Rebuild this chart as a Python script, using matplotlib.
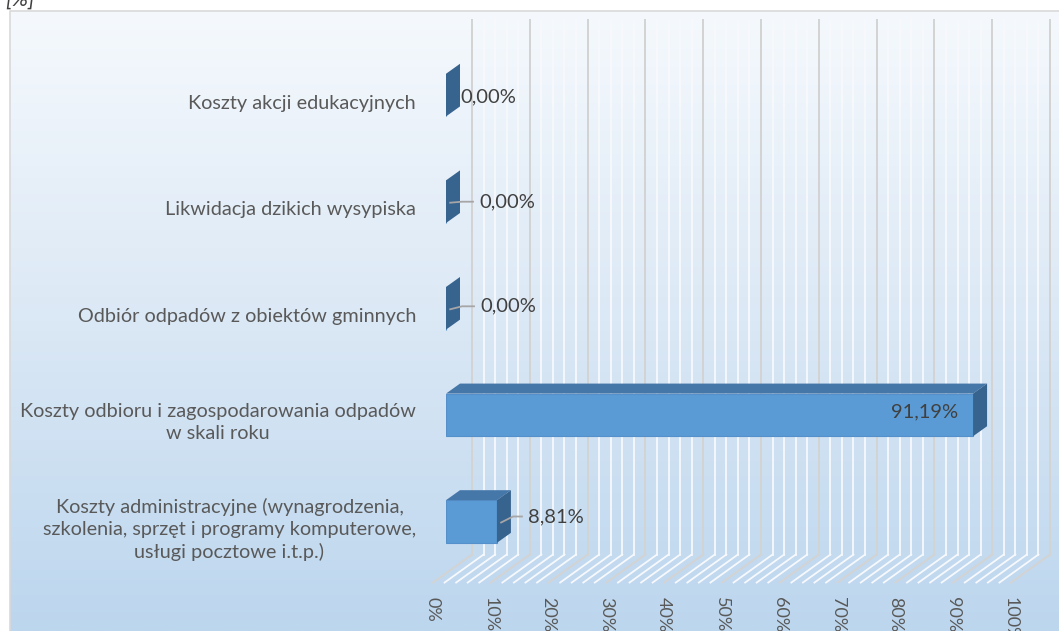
import numpy as np
import matplotlib
matplotlib.use("Agg")
import matplotlib.pyplot as plt
from matplotlib.patches import Polygon
from matplotlib.colors import LinearSegmentedColormap

plt.rcParams['font.family'] = ['Lato', 'DejaVu Sans']

# data
categories = [
    "Koszty administracyjne (wynagrodzenia,\nszkolenia, sprzęt i programy komputerowe,\nusługi pocztowe i.t.p.)",
    "Koszty odbioru i zagospodarowania odpadów\nw skali roku",
    "Odbiór odpadów z obiektów gminnych",
    "Likwidacja dzikich wysypiska",
    "Koszty akcji edukacyjnych",
]
values = [8.81, 91.19, 0.00, 0.00, 0.00]
tick_values = [0, 10, 20, 30, 40, 50, 60, 70, 80, 90, 100]
tick_labels = ["0%", "10%", "20%", "30%", "40%", "50%", "60%", "70%", "80%", "90%", "100%"]

W, H = 1059, 631
fig = plt.figure(figsize=(W / 100, H / 100), dpi=100)

# background with gradient
bg = fig.add_axes([0, 0, 1, 1])
bg.set_xlim(0, W)
bg.set_ylim(H, 0)
bg.axis('off')
cmap = LinearSegmentedColormap.from_list('bg', ['#f5f9fd', '#dbe8f5', '#bcd6ee'])
grad = np.linspace(0, 1, 256)[:, None]
bg.imshow(grad, extent=(10, W, H, 11), cmap=cmap, aspect='auto', zorder=0)
bg.plot([10, 10, W], [H, 11, 11], color='#d9d9d9', lw=1.2, zorder=1)
fig.text(5 / W, 1 - 6 / H, "[%]", fontsize=16, style='italic', color='#404040',
         va='baseline', ha='left')

# main axes
ax = fig.add_axes([446 / W, 56.2 / H, 578 / W, 533 / H])
ax.set_xlim(0, 100)
ax.set_ylim(-0.5, 4.5)
ax.axis('off')
ax.patch.set_alpha(0)

bb = ax.get_position()
sx = 100 / (bb.width * W)   # data per pixel, x
sy = 5 / (bb.height * H)    # data per pixel, y

wall_bot, wall_top = -0.31, 4.70
wall_dx = 26 * sx
floor_dx, floor_dy = 39 * sx, 28 * sy

# gridlines on back wall and floor
for g in np.arange(0, 101, 2):
    major = g % 10 == 0
    c = '#d3d3d3' if major else '#f7f9fc'
    lw = 1.4 if major else 1.3
    xw = g + wall_dx
    ax.plot([xw, xw], [wall_bot, wall_top], color=c, lw=lw, zorder=1, clip_on=False)
    ax.plot([xw, xw - floor_dx], [wall_bot, wall_bot - floor_dy], color=c, lw=lw,
            zorder=1, clip_on=False)

for g, t in zip(tick_values, tick_labels):
    ax.text(g + wall_dx - floor_dx, wall_bot - floor_dy - 14 * sy, t, rotation=-90,
            ha='center', va='top', fontsize=13, color='#595959', clip_on=False)

# 3d bars
h = 0.40
dx, dy = 14 * sx, 10 * sy
front_c, top_c, side_c = '#5b9bd5', '#4577a8', '#37638f'
ypos = np.arange(len(values))
ax.barh(ypos, values, height=h, color=front_c, edgecolor='#5590cb', lw=0.8, zorder=3)
for y, v in zip(ypos, values):
    top = [(0, y + h / 2), (v, y + h / 2), (v + dx, y + h / 2 + dy), (dx, y + h / 2 + dy)]
    side = [(v, y - h / 2), (v, y + h / 2), (v + dx, y + h / 2 + dy), (v + dx, y - h / 2 + dy)]
    ax.add_patch(Polygon(top, closed=True, fc=top_c, ec='none', zorder=3))
    ax.add_patch(Polygon(side, closed=True, fc=side_c, ec='none', zorder=3))

# category labels
for y, c in zip(ypos, categories):
    ax.text(-30 * sx, y - 8 * sy, c, ha='right', va='center', multialignment='center',
            fontsize=14.3, color='#595959', linespacing=1.35, clip_on=False)

# value labels
lab_dx = [31, -15, 34, 33, 14]
lab_dy = [5, 3, 2, 0, -2]
leader = [True, False, True, True, False]
for y, v, ox, oy, ld in zip(ypos, values, lab_dx, lab_dy, leader):
    s = f"{v:.2f}%".replace('.', ',')
    ty = y + oy * sy
    if ox < 0:
        ax.text(v + ox * sx, ty, s, ha='right', va='center', fontsize=14.5,
                color='#404040', zorder=5)
    else:
        tx = v + ox * sx
        ax.text(tx, ty, s, ha='left', va='center', fontsize=14.5, color='#404040', zorder=5)
        if ld:
            ax.plot([v + dx * 0.3, v + dx + 2 * sx, tx - 6 * sx],
                    [y - 1 * sy, ty, ty], color='#a6a6a6', lw=1.3, zorder=4)

fig.savefig('out.png', dpi=100)
